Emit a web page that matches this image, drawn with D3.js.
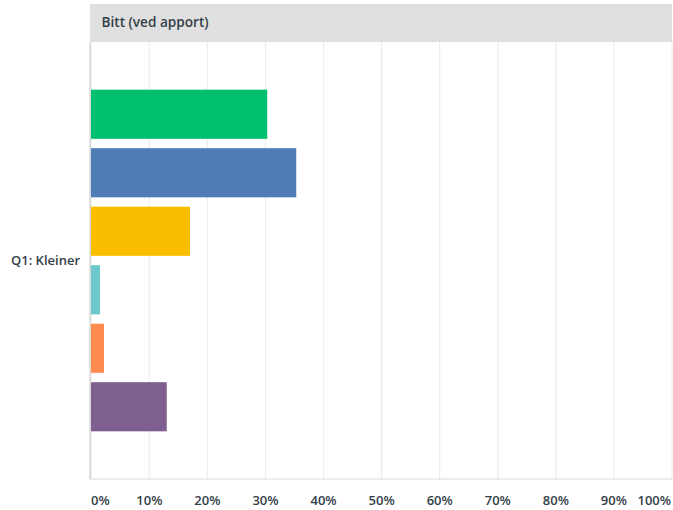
<!DOCTYPE html>
<html><head><meta charset="utf-8">
<script src="https://cdn.jsdelivr.net/npm/d3@7"></script>
<style>body{margin:0;background:#fff;} text{font-family:"Open Sans","Noto Sans",sans-serif;}</style>
</head><body>
<svg id="c" width="673" height="510"></svg>
<script>
const headerTitle = "Bitt (ved apport)";
const rowLabel = "Q1: Kleiner";
const seriesNames = ["A","B","C","D","E","F"];
const values = [30.3, 35.3, 17.0, 1.5, 2.2, 13.0];
const colors = ["#00BF6F","#507CB6","#F9BE00","#6BC8CD","#FF8B4F","#7F5F90"];
const ticks = [0,10,20,30,40,50,60,70,80,90,100];

const svg = d3.select("#c");
const pLeft = 91.25, pRight = 672, pTop = 42, pBottom = 479;
const x = d3.scaleLinear().domain([0,100]).range([pLeft,pRight]);
const y = d3.scaleBand().domain(seriesNames).range([pTop,pBottom]).paddingInner(0.16).paddingOuter(0.815);

// header
svg.append("rect").attr("x",90).attr("y",4).attr("width",pRight-90).attr("height",pTop-4).attr("fill","#E0E0E0");
svg.append("text").attr("x",101.5).attr("y",27).attr("font-size",13.6).attr("font-weight",600)
  .attr("fill","#333e48").text(headerTitle);

// gridlines
svg.append("g").selectAll("line").data(ticks.slice(1)).join("line")
  .attr("x1",d=>x(d)).attr("x2",d=>x(d)).attr("y1",pTop).attr("y2",pBottom)
  .attr("stroke","#EDEDED").attr("stroke-width",1.2);
// bottom line
svg.append("line").attr("x1",90).attr("x2",pRight).attr("y1",pBottom).attr("y2",pBottom)
  .attr("stroke","#D9D9D9").attr("stroke-width",1);
// left axis line
svg.append("line").attr("x1",90.3).attr("x2",90.3).attr("y1",pTop).attr("y2",pBottom)
  .attr("stroke","#D9D9D9").attr("stroke-width",2);

// bars
svg.append("g").selectAll("rect").data(seriesNames).join("rect")
  .attr("x",x(0)-0.25).attr("y",d=>y(d)).attr("height",y.bandwidth())
  .attr("width",(d,i)=>x(values[i])-x(0)+0.25).attr("fill",(d,i)=>colors[i]);

// row label
svg.append("text").attr("x",80).attr("y",(pTop+pBottom)/2+4).attr("text-anchor","end")
  .attr("font-size",13).attr("font-weight",600).attr("fill","#333e48").text(rowLabel);

// tick labels
svg.append("g").selectAll("text").data(ticks).join("text")
  .attr("x",d=>d===0?91:(d===100?671:x(d)))
  .attr("text-anchor",d=>d===0?"start":(d===100?"end":"middle"))
  .attr("y",505).attr("font-size",13).attr("font-weight",600).attr("fill","#333e48")
  .text(d=>d+"%");
</script>
</body></html>
